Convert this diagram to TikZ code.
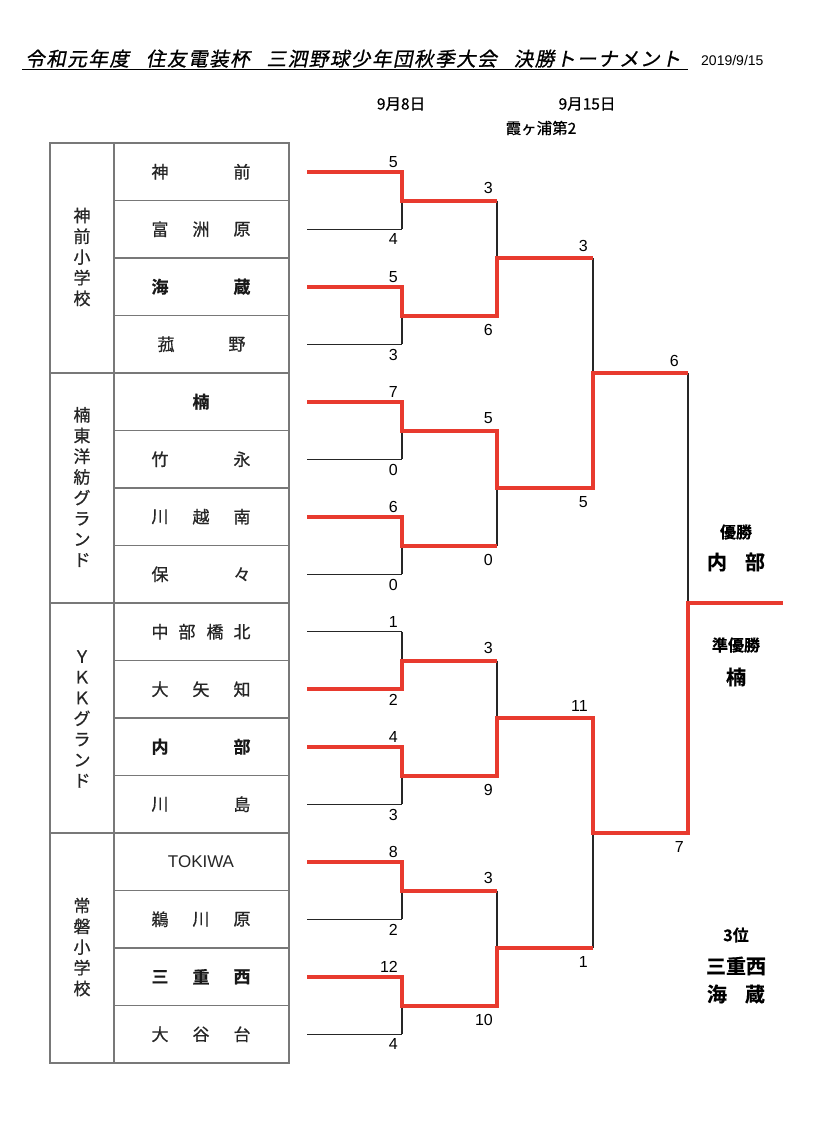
\documentclass[tikz,border=0pt]{standalone}
\usepackage{fontspec}
\newfontfamily\jp{Noto Sans CJK JP}[FakeBold=0.7,BoldFont={Noto Sans CJK JP Bold},BoldFeatures={FakeBold=0.5}]
\newfontfamily\jpsl{Noto Sans CJK JP}[FakeSlant=0.2,LetterSpace=8,FakeBold=0.9]
\newfontfamily\num{Liberation Sans}
\definecolor{tred}{RGB}{232,58,46}
\definecolor{tgrid}{RGB}{120,120,120}
\tikzset{
  nm/.style={font=\jp\fontsize{17}{17}\selectfont, inner sep=0pt, text=black!85},
  nmb/.style={font=\jp\bfseries\fontsize{17}{17}\selectfont, inner sep=0pt, text=black!90},
  grp/.style={font=\jp\fontsize{17}{20.7}\selectfont, inner sep=0pt, align=center, text=black!85},
  sc/.style={font=\num\fontsize{16}{16}\selectfont, inner sep=0pt},
  hd/.style={font=\jp\fontsize{15.5}{15.5}\selectfont, inner sep=0pt},
  res/.style={font=\jp\bfseries\fontsize{16}{16}\selectfont, inner sep=0pt},
  resbig/.style={font=\jp\bfseries\fontsize{20}{20}\selectfont, inner sep=0pt},
  bk/.style={line width=1.3pt, draw=black!85},
  rd/.style={line width=4pt, draw=tred, line join=miter},
  tbl/.style={line width=1.4pt, draw=tgrid}
}
\begin{document}
\begin{tikzpicture}[x=1pt,y=-1pt]
\useasboundingbox[fill=white] (0,0) rectangle (828,1146);

% title
\node[anchor=base west, inner sep=0pt, font=\jpsl\fontsize{19.5}{19.5}\selectfont] (title) at (25,66)
  {令和元年度\hspace{17pt}住友電装杯\hspace{17pt}三泗野球少年団秋季大会\hspace{17pt}決勝トーナメント};
\draw[line width=1.2pt] (22,69.5) -- (688,69.5);
\node[anchor=base west, inner sep=0pt, font=\num\fontsize{14}{14}\selectfont] (date) at (701,65) {2019/9/15};

% headers
\node[hd] (h1) at (401,104) {9月8日};
\node[hd] (h2) at (587,104) {9月15日};
\node[hd] (h3) at (541,128) {霞ヶ浦第2};

% table
\draw[tbl] (50,143) rectangle (289,1063);
\draw[tbl] (114,143) -- (114,1063);
\foreach \i in {1,...,15}{
  \pgfmathsetmacro\yy{143+57.5*\i}
  \pgfmathtruncatemacro\md{mod(\i,4)}
  \ifnum\md=0
    \draw[tbl] (50,\yy) -- (289,\yy);
  \else
    \draw[tbl] (114,\yy) -- (289,\yy);
  \fi
}

% group labels
\node[grp] (g1) at (82,257) {神\\前\\小\\学\\校};
\node[grp] (g2) at (82,487) {楠\\東\\洋\\紡\\グ\\ラ\\ン\\ド};
\node[grp] (g3) at (82,719) {Ｙ\\Ｋ\\Ｋ\\グ\\ラ\\ン\\ド};
\node[grp] (g4) at (82,947) {常\\磐\\小\\学\\校};

% team names
\newcommand\tch[4]{\node[#4] (t#1-#2) at (#2,{171.75+57.5*(#1-1)}) {#3};}
\tch{1}{160}{神}{nm}\tch{1}{242}{前}{nm}
\tch{2}{160}{富}{nm}\tch{2}{201}{洲}{nm}\tch{2}{242}{原}{nm}
\tch{3}{160}{海}{nmb}\tch{3}{242}{蔵}{nmb}
\tch{4}{166}{菰}{nm}\tch{4}{237}{野}{nm}
\tch{5}{201}{楠}{nmb}
\tch{6}{160}{竹}{nm}\tch{6}{242}{永}{nm}
\tch{7}{160}{川}{nm}\tch{7}{201}{越}{nm}\tch{7}{242}{南}{nm}
\tch{8}{160}{保}{nm}\tch{8}{242}{々}{nm}
\tch{9}{160}{中}{nm}\tch{9}{187}{部}{nm}\tch{9}{215}{橋}{nm}\tch{9}{242}{北}{nm}
\tch{10}{160}{大}{nm}\tch{10}{201}{矢}{nm}\tch{10}{242}{知}{nm}
\tch{11}{160}{内}{nmb}\tch{11}{242}{部}{nmb}
\tch{12}{160}{川}{nm}\tch{12}{242}{島}{nm}
\node[inner sep=0pt, font=\num\fontsize{17}{17}\selectfont, text=black!85] (t13) at (201,861.75) {TOKIWA};
\tch{14}{160}{鵜}{nm}\tch{14}{201}{川}{nm}\tch{14}{242}{原}{nm}
\tch{15}{160}{三}{nmb}\tch{15}{201}{重}{nmb}\tch{15}{242}{西}{nmb}
\tch{16}{160}{大}{nm}\tch{16}{201}{谷}{nm}\tch{16}{242}{台}{nm}

% bracket coordinates
\foreach \i in {1,...,16}{
  \pgfmathsetmacro\yy{171.75+57.5*(\i-1)}
  \coordinate (s\i) at (307,\yy);
  \coordinate (a\i) at (402,\yy);
}
\foreach \k in {1,...,8}{
  \pgfmathsetmacro\yy{200.5+115*(\k-1)}
  \coordinate (m\k) at (402,\yy);
  \coordinate (b\k) at (497,\yy);
}
\foreach \j in {1,...,4}{
  \pgfmathsetmacro\yy{258.25+230*(\j-1)}
  \coordinate (c\j) at (497,\yy);
  \coordinate (cr\j) at (593,\yy);
}
\foreach \l in {1,2}{
  \pgfmathsetmacro\yy{373.25+460*(\l-1)}
  \coordinate (d\l) at (593,\yy);
  \coordinate (dr\l) at (688,\yy);
}
\coordinate (e) at (688,603.25);
\coordinate (er) at (783,603.25);

% black bracket
\foreach \i in {1,...,16}{ \draw[bk] (s\i) -- (a\i); }
\foreach \k in {1,...,8}{
  \pgfmathtruncatemacro\u{2*\k-1}\pgfmathtruncatemacro\v{2*\k}
  \draw[bk] (a\u) -- (a\v);
  \draw[bk] (m\k) -- (b\k);
}
\foreach \j in {1,...,4}{
  \pgfmathtruncatemacro\u{2*\j-1}\pgfmathtruncatemacro\v{2*\j}
  \draw[bk] (b\u) -- (b\v);
  \draw[bk] (c\j) -- (cr\j);
}
\foreach \l in {1,2}{
  \pgfmathtruncatemacro\u{2*\l-1}\pgfmathtruncatemacro\v{2*\l}
  \draw[bk] (cr\u) -- (cr\v);
  \draw[bk] (d\l) -- (dr\l);
}
\draw[bk] (dr1) -- (dr2);
\draw[bk] (e) -- (er);

% red winner paths
\draw[rd] (s1) -- (a1) -- (m1) -- (b1);
\draw[rd] (s3) -- (a3) -- (m2) -- (b2) -- (c1) -- (cr1);
\draw[rd] (s5) -- (a5) -- (m3) -- (b3) -- (c2) -- (cr2) -- (d1) -- (dr1);
\draw[rd] (s7) -- (a7) -- (m4) -- (b4);
\draw[rd] (s10) -- (a10) -- (m5) -- (b5);
\draw[rd] (s11) -- (a11) -- (m6) -- (b6) -- (c3) -- (cr3) -- (d2) -- (dr2) -- (e) -- (er);
\draw[rd] (s13) -- (a13) -- (m7) -- (b7);
\draw[rd] (s15) -- (a15) -- (m8) -- (b8) -- (c4) -- (cr4);

% scores round 1
\foreach \i/\s in {1/5,3/5,5/7,7/6,9/1,11/4,13/8,15/12}{
  \node[sc, anchor=south east] (n\i) at ([xshift=-4pt,yshift=4pt]a\i) {\s};
}
\foreach \i/\s in {2/4,4/3,6/0,8/0,10/2,12/3,14/2,16/4}{
  \node[sc, anchor=north east] (n\i) at ([xshift=-4pt,yshift=-4.5pt]a\i) {\s};
}
% round 2
\foreach \k/\s in {1/3,3/5,5/3,7/3}{
  \node[sc, anchor=south east] (p\k) at ([xshift=-4pt,yshift=6.5pt]b\k) {\s};
}
\foreach \k/\s in {2/6,4/0,6/9,8/10}{
  \node[sc, anchor=north east] (p\k) at ([xshift=-4pt,yshift=-8.5pt]b\k) {\s};
}
% round 3
\node[sc, anchor=south east] (r1) at ([xshift=-5pt,yshift=6.5pt]cr1) {3};
\node[sc, anchor=north east] (r2) at ([xshift=-5pt,yshift=-8.5pt]cr2) {5};
\node[sc, anchor=south east] (r3) at ([xshift=-5pt,yshift=6.5pt]cr3) {11};
\node[sc, anchor=north east] (r4) at ([xshift=-5pt,yshift=-8.5pt]cr4) {1};
% final
\node[sc, anchor=south east] (f1) at ([xshift=-9pt,yshift=6pt]dr1) {6};
\node[sc, anchor=north east] (f2) at ([xshift=-4pt,yshift=-8.5pt]dr2) {7};

% results
\node[res] (w1) at (736,532) {優勝};
\node[resbig] (w2) at (736,562) {内\hspace{18pt}部};
\node[res] (w3) at (736,645) {準優勝};
\node[resbig] (w4) at (736,677) {楠};
\node[res] (w5) at (736,935) {3位};
\node[resbig] (w6) at (736,966) {三重西};
\node[resbig] (w7) at (736,994) {海\hspace{18pt}蔵};
\end{tikzpicture}
\end{document}
